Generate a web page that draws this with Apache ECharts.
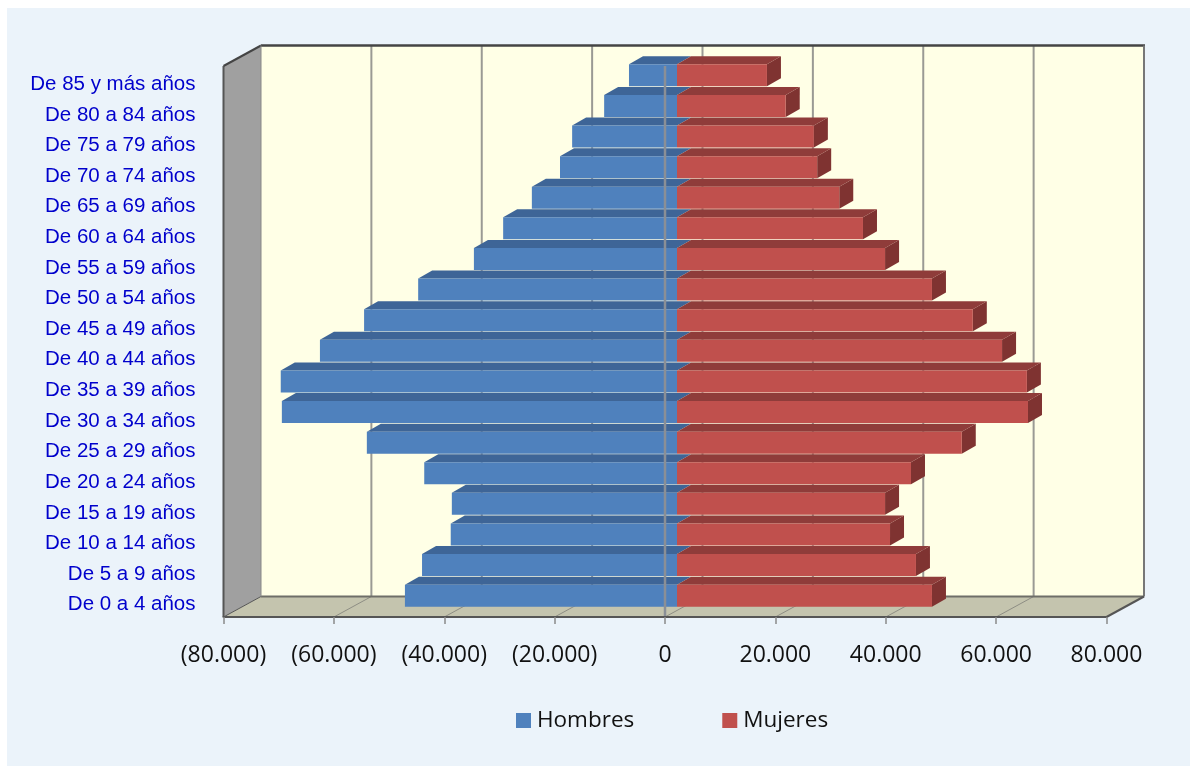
<!DOCTYPE html>
<html><head><meta charset="utf-8">
<style>html,body{margin:0;padding:0;background:#fff}#c{width:1198px;height:767px}</style>
<script src="https://cdn.jsdelivr.net/npm/echarts@6/dist/echarts.min.js"></script>
</head><body><div id="c"></div>
<script>
const categories = ['De 0 a 4 años','De 5 a 9 años','De 10 a 14 años','De 15 a 19 años','De 20 a 24 años','De 25 a 29 años','De 30 a 34 años','De 35 a 39 años','De 40 a 44 años','De 45 a 49 años','De 50 a 54 años','De 55 a 59 años','De 60 a 64 años','De 65 a 69 años','De 70 a 74 años','De 75 a 79 años','De 80 a 84 años','De 85 y más años'];
const hombres = [-49300,-46200,-41000,-40800,-45800,-56200,-71600,-71800,-64700,-56700,-46900,-36800,-31500,-26300,-21200,-19000,-13200,-8700];
const mujeres = [46200,43300,38600,37700,42400,51600,63600,63400,58900,53600,46200,37700,33700,29400,25400,24800,19700,16300];
const xTicks = [-80000,-60000,-40000,-20000,0,20000,40000,60000,80000];

const DX = 37.5, DY = 20.5;           // depth of the 3D box
const BX = 12, BY = -6;               // bar offset inside the box
const TX = 14, TY = 8;                // bar depth
const FACE = 22;                      // bar front height
const fmt = v => { const s = Math.abs(v).toString().replace(/\B(?=(\d{3})+$)/g,'.'); return v<0 ? '('+s+')' : s; };

function poly(pts, fill, z2){ return {type:'polygon', z2:z2||0, shape:{points:pts}, style:{fill:fill}}; }
function line(x1,y1,x2,y2,c,w,z2){ return {type:'line', z2:z2||1, shape:{x1,y1,x2,y2}, style:{stroke:c,lineWidth:w}}; }

function renderBox(params, api){
  const g = params.coordSys, l=g.x, r=g.x+g.width, t=g.y, b=g.y+g.height;
  const ch = [
    poly([[l+DX,t-DY],[r+DX,t-DY],[r+DX,b-DY],[l+DX,b-DY]],'#FFFFE6'),
    poly([[l,t],[l+DX,t-DY],[l+DX,b-DY],[l,b]],'#A0A0A0'),
    poly([[l,b],[l+DX,b-DY],[r+DX,b-DY],[r,b]],'#C4C4AE'),
  ];
  xTicks.forEach(v=>{
    const x = api.coord([v,0])[0];
    if(v>-80000 && v<80000){
      ch.push(line(x+DX,t-DY,x+DX,b-DY,'#9A9A94',2));
      ch.push(line(x,b,x+DX,b-DY,'#8E8E84',1));
    }
  });
  ch.push(line(l+DX,b-DY,r+DX,b-DY,'#6E6E68',2,2));
  ch.push(line(l+DX,t-DY,r+DX+1,t-DY,'#444',2.5,2));
  ch.push(line(r+DX,t-DY,r+DX,b-DY,'#777',2,2));
  ch.push(line(l,t,l+DX,t-DY,'#444',2,2));
  ch.push(line(l,t,l,b,'#555',2,2));
  ch.push(line(l,b,l+DX,b-DY,'#555',1,2));
  ch.push(line(r,b,r+DX,b-DY,'#555',2,2));
  ch.push(line(l+DX,t-DY,l+DX,b-DY,'#888',1,2));
  return {type:'group', children:ch};
}
function renderBar(front, top, side){
  return function(params, api){
    const p0 = api.coord([0, api.value(1)]), p1 = api.coord([api.value(0), api.value(1)]);
    const x0 = p0[0]+BX, x1 = p1[0]+BX, y1 = p0[1]+BY-FACE/2, y2 = y1+FACE;
    const ch = [
      poly([[x0,y1],[x0+TX,y1-TY],[x1+TX,y1-TY],[x1,y1]], top),
      {type:'rect', shape:{x:Math.min(x0,x1),y:y1,width:Math.abs(x1-x0),height:FACE}, style:{fill:front}},
    ];
    if(side) ch.unshift(poly([[x1,y1],[x1+TX,y1-TY],[x1+TX,y2-TY],[x1,y2]], side));
    return {type:'group', children:ch};
  };
}
function renderCentre(params, api){
  const g = params.coordSys, x = api.coord([0,0])[0];
  return line(x,g.y,x,g.y+g.height,'#8A8F96',2.5);
}

const chart = echarts.init(document.getElementById('c'), null, {renderer:'canvas'});
chart.setOption({
  animation:false,
  graphic:[{type:'rect', z:-10, shape:{x:7,y:8,width:1183,height:758}, style:{fill:'#EBF3FA'}}],
  grid:{left:223.5, top:66, width:883, height:551, containLabel:false},
  legend:{
    left:516, top:709, padding:0, icon:'rect', itemWidth:15, itemHeight:15, itemGap:88,
    data:['Hombres','Mujeres'], selectedMode:false,
    textStyle:{fontFamily:'"Open Sans"', fontSize:22.5, color:'#111', padding:[0,0,0,1]}
  },
  xAxis:{
    type:'value', min:-80000, max:80000, interval:20000, z:5,
    splitLine:{show:false},
    axisLine:{show:true, onZero:false, lineStyle:{color:'#555', width:2}},
    axisTick:{show:true, length:7, lineStyle:{color:'#8A8A8A', width:1.5}},
    axisLabel:{formatter:fmt, margin:27, fontFamily:'"Open Sans"', fontSize:23, color:'#111', hideOverlap:false, showMinLabel:true, showMaxLabel:true}
  },
  yAxis:{
    type:'category', data:categories, position:'left',
    axisLine:{show:false, onZero:false}, axisTick:{show:false}, splitLine:{show:false},
    axisLabel:{interval:0, margin:28, formatter:v=>'{a|'+v+'}',
      rich:{a:{padding:[6,0,0,0], fontFamily:'"Liberation Sans"', fontSize:20.5, color:'#0000CC'}}}
  },
  series:[
    {name:'box', type:'custom', z:1, silent:true, data:[[0,0]], encode:{x:0,y:1}, renderItem:renderBox},
    {name:'Hombres', type:'custom', z:2, itemStyle:{color:'#4F81BD'}, data:hombres.map((v,i)=>[v,i]), encode:{x:0,y:1}, renderItem:renderBar('#4F81BD','#3E6597',null)},
    {name:'Mujeres', type:'custom', z:3, itemStyle:{color:'#C0504D'}, data:mujeres.map((v,i)=>[v,i]), encode:{x:0,y:1}, renderItem:renderBar('#C0504D','#8F3C3A','#7F3331')},
    {name:'centre', type:'custom', z:4, silent:true, data:[[0,0]], encode:{x:0,y:1}, renderItem:renderCentre}
  ]
});
</script></body></html>
